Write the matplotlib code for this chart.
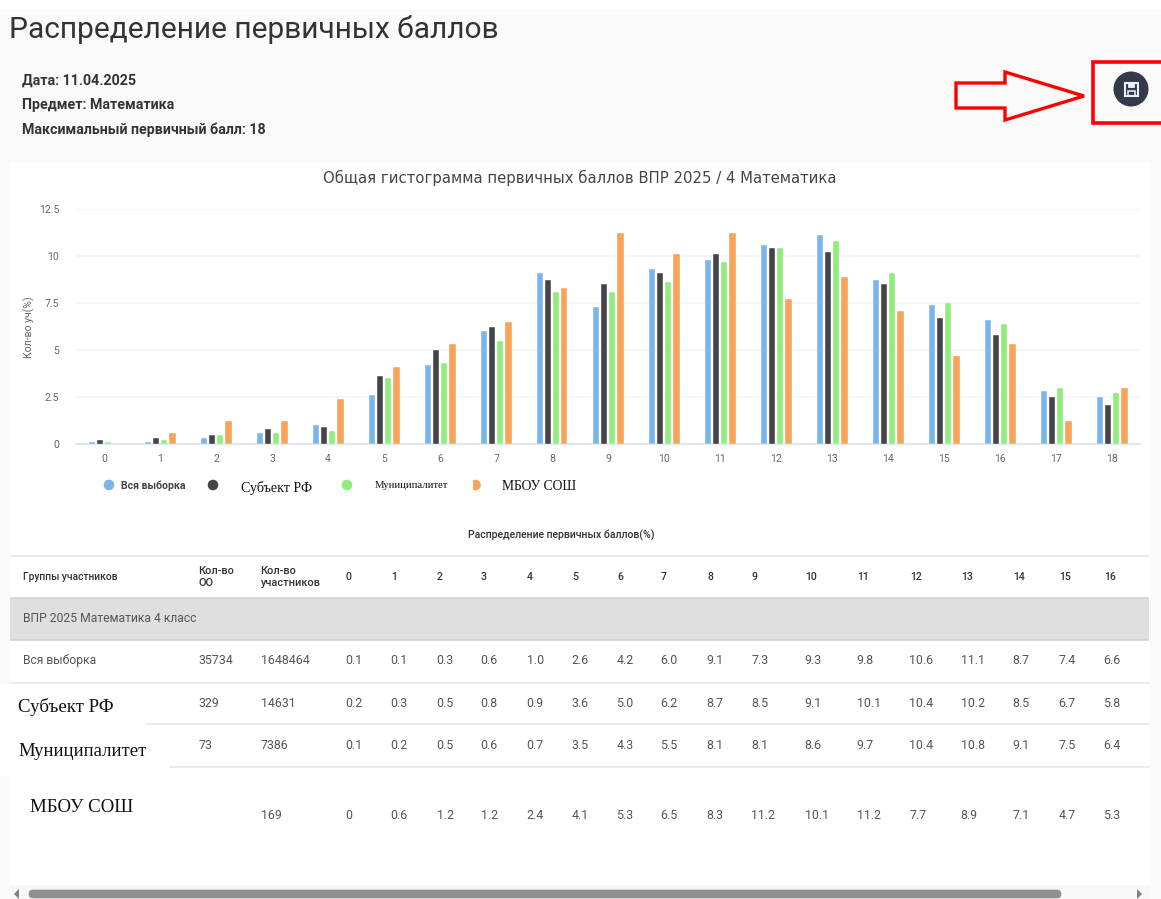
import matplotlib
matplotlib.use("Agg")
import matplotlib.pyplot as plt
from matplotlib.patches import Rectangle, Circle, Polygon, FancyBboxPatch

W, H = 1161, 899

scores = list(range(19))
series_names = ["Вся выборка", "Субъект РФ", "Муниципалитет", "МБОУ СОШ"]
all_sample = [0.1, 0.1, 0.3, 0.6, 1.0, 2.6, 4.2, 6.0, 9.1, 7.3, 9.3, 9.8, 10.6, 11.1, 8.7, 7.4, 6.6, 2.8, 2.5]
subject_rf = [0.2, 0.3, 0.5, 0.8, 0.9, 3.6, 5.0, 6.2, 8.7, 8.5, 9.1, 10.1, 10.4, 10.2, 8.5, 6.7, 5.8, 2.5, 2.1]
municipality = [0.1, 0.2, 0.5, 0.6, 0.7, 3.5, 4.3, 5.5, 8.1, 8.1, 8.6, 9.7, 10.4, 10.8, 9.1, 7.5, 6.4, 3.0, 2.7]
school = [0, 0.6, 1.2, 1.2, 2.4, 4.1, 5.3, 6.5, 8.3, 11.2, 10.1, 11.2, 7.7, 8.9, 7.1, 4.7, 5.3, 1.2, 3.0]
colors = ["#7cb5ec", "#434348", "#90ed7d", "#f7a35c"]
y_ticks = [0, 2.5, 5, 7.5, 10, 12.5]
y_tick_labels = ["0", "2.5", "5", "7.5", "10", "12.5"]

table_orgs = ["35734", "329", "73", ""]
table_people = ["1648464", "14631", "7386", "169"]
table_rows_text = [
    ["0.1", "0.1", "0.3", "0.6", "1.0", "2.6", "4.2", "6.0", "9.1", "7.3", "9.3", "9.8", "10.6", "11.1", "8.7", "7.4", "6.6"],
    ["0.2", "0.3", "0.5", "0.8", "0.9", "3.6", "5.0", "6.2", "8.7", "8.5", "9.1", "10.1", "10.4", "10.2", "8.5", "6.7", "5.8"],
    ["0.1", "0.2", "0.5", "0.6", "0.7", "3.5", "4.3", "5.5", "8.1", "8.1", "8.6", "9.7", "10.4", "10.8", "9.1", "7.5", "6.4"],
    ["0", "0.6", "1.2", "1.2", "2.4", "4.1", "5.3", "6.5", "8.3", "11.2", "10.1", "11.2", "7.7", "8.9", "7.1", "4.7", "5.3"],
]
col_x = [346, 391, 437, 481, 527, 572, 617, 661, 707, 752, 805, 857, 910, 961, 1013, 1059, 1104]
row_y = [660.5, 703.5, 745.5, 815.5]

SANS = "Roboto"
SERIF = "Liberation Serif"

fig = plt.figure(figsize=(W / 100, H / 100), dpi=100, facecolor="#fafafa")
bg = fig.add_axes([0, 0, 1, 1], zorder=0)
bg.set_xlim(0, W)
bg.set_ylim(H, 0)
bg.axis("off")


def rect(x0, y0, x1, y1, color, z=1):
    bg.add_patch(Rectangle((x0, y0), x1 - x0, y1 - y0, facecolor=color, edgecolor="none", zorder=z))


def hline(y, x0, x1, color="#e8e8e8", lw=1.2):
    bg.plot([x0, x1], [y, y], color=color, lw=lw, zorder=2, solid_capstyle="butt")


def label(x, y, s, size=8.9, color="#555555", weight="normal", family=SANS, **kw):
    kw.setdefault("ha", "left")
    kw.setdefault("va", "center")
    return bg.text(x, y, s, fontsize=size, color=color, fontweight=weight, family=family, zorder=5, **kw)


# page blocks
rect(0, 0, W, 10, "#ffffff")
rect(10, 163, 1150, 885, "#ffffff")
rect(0, 684, 147, 724, "#ffffff", 3)
rect(0, 724, 170, 776, "#ffffff", 3)
rect(10, 885, 1150, 899, "#f8f8f8")

# heading
label(9, 29, "Распределение первичных баллов", size=21.5, color="#333333")
label(22, 81, "Дата: 11.04.2025", size=10.3, color="#333333", weight="bold")
label(22, 104.5, "Предмет: Математика", size=10.3, color="#333333", weight="bold")
label(22, 129.5, "Максимальный первичный балл: 18", size=10.3, color="#333333", weight="bold")

# annotation arrow, box and save button
bg.add_patch(Polygon([(956, 83), (1005, 83), (1005, 72), (1084, 96), (1005, 120), (1005, 108), (956, 108)],
                     closed=True, fill=False, edgecolor="#ff0000", lw=2.4, zorder=4))
bg.add_patch(Polygon([(1161, 62), (1093, 62), (1093, 123), (1161, 123)], closed=False, fill=False,
                     edgecolor="#ff0000", lw=2.6, zorder=4))
bg.add_patch(Circle((1131, 89), 17.5, facecolor="#353a4a", edgecolor="none", zorder=4))
bg.add_patch(Rectangle((1125, 83), 13, 13, facecolor="none", edgecolor="#e8f2fb", lw=1.5, zorder=5))
bg.add_patch(Rectangle((1128, 83), 6, 4, facecolor="#e8f2fb", edgecolor="#e8f2fb", lw=0.6, zorder=5))
bg.add_patch(Rectangle((1128, 91), 7, 5, facecolor="none", edgecolor="#e8f2fb", lw=1.1, zorder=5))

# chart title
label(580, 178, "Общая гистограмма первичных баллов ВПР 2025 / 4 Математика", size=10.75,
      color="#444444", ha="center", family="DejaVu Sans")
label(29, 327.5, "Кол-во уч(%)", size=7.6, color="#666666", rotation=90, ha="center")

# chart
ax = fig.add_axes([76 / W, 1 - 444 / H, (1140 - 76) / W, (444 - 209) / H], zorder=2)
ax.patch.set_alpha(0)
ax.set_xlim(-0.5, 18.5)
ax.set_ylim(0, 12.5)
pitch = 8.2 / 56
width = 6.4 / 56
for i, vals in enumerate([all_sample, subject_rf, municipality, school]):
    ax.bar([s + (i - 1.5) * pitch for s in scores], vals, width=width, color=colors[i],
           edgecolor="white", linewidth=0.3, zorder=3, label=series_names[i])
ax.set_yticks(y_ticks, y_tick_labels)
ax.set_xticks(scores, [str(s) for s in scores])
ax.grid(axis="y", color="#f3f3f3", lw=1.2, zorder=0)
ax.set_axisbelow(True)
for side in ["top", "right", "left"]:
    ax.spines[side].set_visible(False)
ax.spines["bottom"].set_color("#e0e5f0")
ax.spines["bottom"].set_linewidth(1.4)
ax.tick_params(axis="both", length=0, labelsize=7.6, labelcolor="#666666", labelfontfamily=SANS)
ax.tick_params(axis="x", pad=7)
ax.tick_params(axis="y", pad=12)

# legend as on the page, with its mixed fonts
for x, c in zip([109, 213, 347], colors[:3]):
    bg.add_patch(Circle((x, 485), 5.3, facecolor=c, edgecolor="none", zorder=4))
dot = Circle((475.5, 485), 5.3, facecolor=colors[3], edgecolor="none", zorder=4)
bg.add_patch(dot)
dot.set_clip_path(Rectangle((473, 478), 12, 14, transform=bg.transData))
label(121, 486, series_names[0], size=7.6, color="#444444", weight="bold")
label(241, 488, series_names[1], size=10.1, color="#111111", family=SERIF)
label(375, 486, series_names[2], size=7.7, color="#111111", family=SERIF)
label(502, 486.5, series_names[3], size=9.8, color="#111111", family=SERIF)

label(561, 535, "Распределение первичных баллов(%)", size=7.6, color="#333333", weight="medium", ha="center")

# table
rect(10, 598, 1149, 640, "#dfdfdf")
hline(556, 10, 1149)
hline(598, 10, 1149, "#d2d2d2")
hline(640, 10, 1149, "#d2d2d2")
bg.plot([10, 1149], [683, 683], color="#e8e8e8", lw=1.2, zorder=4)
bg.plot([147, 1149], [724, 724], color="#e8e8e8", lw=1.2, zorder=4)
bg.plot([170, 1149], [767, 767], color="#e8e8e8", lw=1.2, zorder=4)

label(23, 577.5, "Группы участников", size=7.4, color="#333333", weight="medium")
label(198.5, 577, "Кол-во\nОО", size=7.9, color="#333333", weight="medium", linespacing=1.2)
label(260.5, 577, "Кол-во\nучастников", size=7.9, color="#333333", weight="medium", linespacing=1.2)
for j, x in enumerate(col_x):
    label(x, 577.5, str(j), size=7.6, color="#333333", weight="medium")
label(23, 618.5, "ВПР 2025 Математика 4 класс", size=8.75, color="#555555")
label(23, 660.5, series_names[0], size=8.7, color="#555555")
label(18, 706.5, series_names[1], size=13.6, color="#111111", family=SERIF)
label(18, 752, series_names[2], size=13.5, color="#111111", family=SERIF)
label(30, 808, series_names[3], size=13.6, color="#111111", family=SERIF)
for i, y in enumerate(row_y):
    label(198.5, y, table_orgs[i], size=8.9)
    label(260.5, y, table_people[i], size=8.9)
    for x, s in zip(col_x, table_rows_text[i]):
        label(x - 0.5, y, s, size=8.9)

# scrollbar
bg.add_patch(FancyBboxPatch((29, 890), 1032, 8, boxstyle="round,pad=0,rounding_size=4", mutation_aspect=1,
                            facecolor="#909090", edgecolor="#909090", lw=0.5, zorder=4))
bg.add_patch(Polygon([(19, 889), (19, 899), (14, 894)], closed=True, facecolor="#808080", edgecolor="none", zorder=4))
bg.add_patch(Polygon([(1137, 889), (1137, 899), (1142, 894)], closed=True, facecolor="#808080", edgecolor="none", zorder=4))

fig.savefig("out.png", dpi=100, facecolor=fig.get_facecolor())
